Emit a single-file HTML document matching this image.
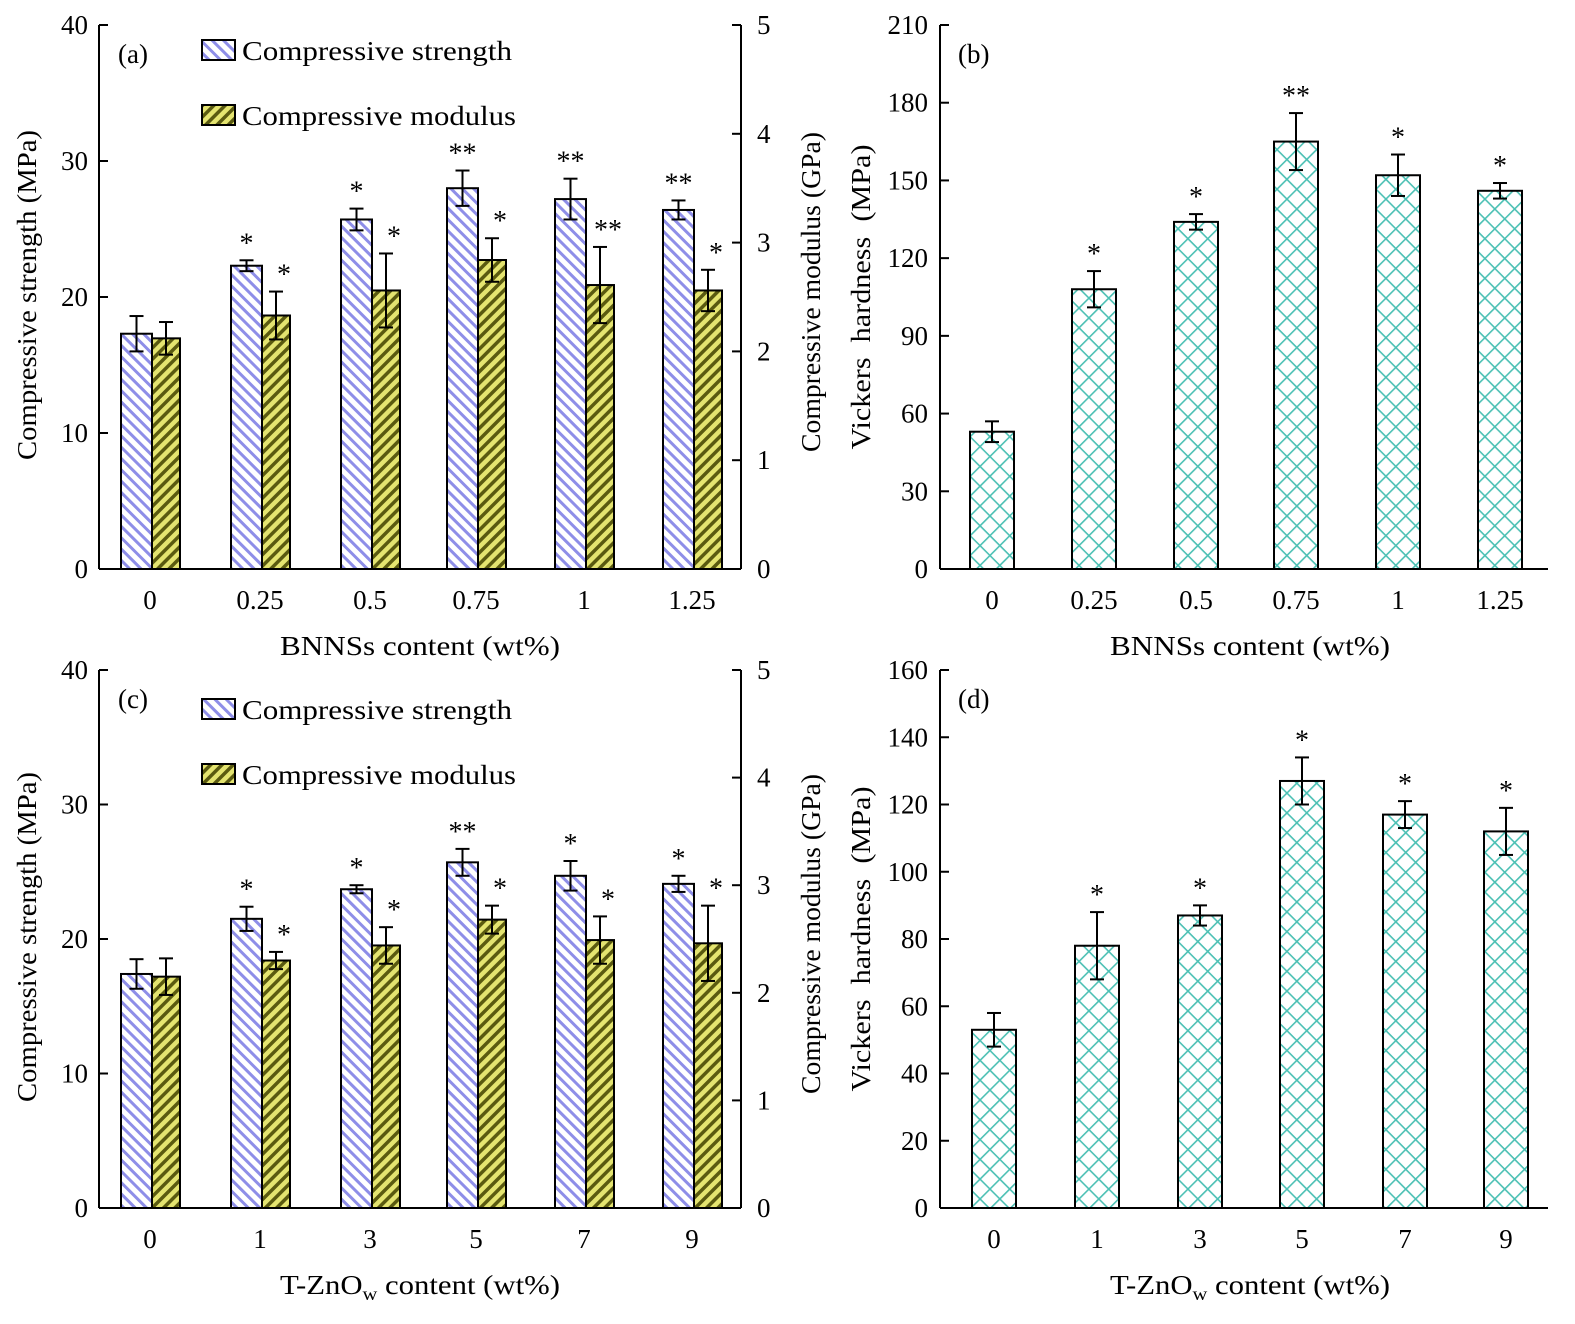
<!DOCTYPE html>
<html><head><meta charset="utf-8"><style>
html,body{margin:0;padding:0;background:#fff}
svg text{font-family:"Liberation Serif",serif;fill:#000}
</style></head><body>
<svg id="s" width="1575" height="1319" xmlns="http://www.w3.org/2000/svg">
<defs>
<pattern id="pb" width="8" height="8" patternUnits="userSpaceOnUse" patternTransform="rotate(-45)">
<rect width="8" height="8" fill="#fff"/><rect width="3" height="8" fill="#8e8ee8"/></pattern>
<pattern id="py" width="8" height="8" patternUnits="userSpaceOnUse" patternTransform="rotate(45)">
<rect width="8" height="8" fill="#e4e470"/><rect width="3.5" height="8" fill="#5a5a10"/></pattern>
<pattern id="px" width="14" height="14" patternUnits="userSpaceOnUse" patternTransform="rotate(45)">
<rect width="14" height="14" fill="#fff"/><rect width="1.6" height="14" fill="#4cc0b4"/><rect width="14" height="1.6" fill="#4cc0b4"/></pattern>
</defs>
<g id="g" stroke="#000" stroke-width="2" font-size="27"></g>
</svg>
<script>
const g=document.getElementById('g');let h='';
function L(x1,y1,x2,y2){h+=`<line x1="${x1}" y1="${y1}" x2="${x2}" y2="${y2}"/>`}
function T(x,y,t,a,extra){h+=`<text x="${x}" y="${y}" stroke="none" text-anchor="${a||'middle'}" ${extra||''}>${t}</text>`}
function bar(x,w,y0,yt,fill,err,stars,sx){
 h+=`<rect x="${x}" y="${yt}" width="${w}" height="${y0-yt}" fill="url(#${fill})"/>`;
 const c=x+w/2;L(c,yt-err,c,yt+err);L(c-7,yt-err,c+7,yt-err);L(c-7,yt+err,c+7,yt+err);
 if(stars)T(sx!==undefined?sx:c,yt-err-8,stars,'middle','font-size="28"');
}
const TL='lengthAdjust="spacingAndGlyphs"';
function dual(top,bot,xlab,cats,centers,str,mod,sS,sM,lab,legY){
 const sp=(bot-top)/40, spm=(bot-top)/5;
 L(99,top,99,bot);L(99,bot,741,bot);L(741,top,741,bot);
 for(let v=0;v<=40;v+=10){const y=bot-v*sp;L(99,y,108,y);T(88,y+9,v,'end');}
 for(let v=0;v<=5;v++){const y=bot-v*spm;L(732,y,741,y);T(757,y+9,v,'start');}
 cats.forEach((c,i)=>{const cx=centers[i];T(cx-2,bot+40,c);
  bar(cx-31,31,bot,bot-str[i][0]*sp,'pb',str[i][1]*sp,sS[i]);
  bar(cx,28,bot,bot-mod[i][0]*spm,'py',mod[i][1]*spm,sM[i],cx+22);});
 T(420,bot+86,xlab,'middle',`textLength="280" ${TL}`);
 T(0,0,'Compressive strength (MPa)','middle',`textLength="330" ${TL} transform="translate(36,${(top+bot)/2-2}) rotate(-90)"`);
 T(0,0,'Compressive modulus (GPa)','middle',`textLength="320" ${TL} transform="translate(820,${(top+bot)/2-5}) rotate(-90)"`);
 T(118,top+38,lab,'start');
 h+=`<rect x="202" y="${legY-11}" width="33" height="20" fill="url(#pb)"/>`;
 T(242,legY+9,'Compressive strength','start',`textLength="270" ${TL}`);
 h+=`<rect x="202" y="${legY+54}" width="33" height="20" fill="url(#py)"/>`;
 T(242,legY+74,'Compressive modulus','start',`textLength="274" ${TL}`);
}
function single(top,bot,max,step,xlab,cats,centers,vals,stars,lab){
 const sp=(bot-top)/max;
 L(940,top,940,bot);L(940,bot,1548,bot);
 for(let v=0;v<=max;v+=step){const y=bot-v*sp;L(940,y,949,y);T(928,y+9,v,'end');}
 cats.forEach((c,i)=>{const cx=centers[i];T(cx,bot+40,c);
  bar(cx-22,44,bot,bot-vals[i][0]*sp,'px',vals[i][1]*sp,stars[i]);});
 T(1250,bot+86,xlab,'middle',`textLength="280" ${TL}`);
 T(0,0,'Vickers&#160; hardness&#160; (MPa)','middle',`textLength="305" ${TL} transform="translate(870,${(top+bot)/2}) rotate(-90)"`);
 T(958,top+38,lab,'start');
}
const ZX='T-ZnO<tspan font-size="18" dy="6">w</tspan><tspan dy="-6"> content (wt%)</tspan>';
dual(25,569,'BNNSs content (wt%)',['0','0.25','0.5','0.75','1','1.25'],[152,262,372,478,586,694],
 [[17.3,1.3],[22.3,0.4],[25.7,0.8],[28,1.3],[27.2,1.5],[26.4,0.7]],
 [[2.12,0.15],[2.33,0.22],[2.56,0.34],[2.84,0.2],[2.61,0.35],[2.56,0.19]],
 ['','*','*','**','**','**'],['','*','*','*','**','*'],'(a)',51);
dual(670,1208,ZX,['0','1','3','5','7','9'],[152,262,372,478,586,694],
 [[17.4,1.1],[21.5,0.9],[23.7,0.3],[25.7,1],[24.7,1.1],[24.1,0.6]],
 [[2.15,0.17],[2.3,0.08],[2.44,0.17],[2.68,0.13],[2.49,0.22],[2.46,0.35]],
 ['','*','*','**','*','*'],['','*','*','*','*','*'],'(c)',710);
single(25,569,210,30,'BNNSs content (wt%)',['0','0.25','0.5','0.75','1','1.25'],[992,1094,1196,1296,1398,1500],
 [[53,4],[108,7],[134,3],[165,11],[152,8],[146,3]],['','*','*','**','*','*'],'(b)');
single(670,1208,160,20,ZX,['0','1','3','5','7','9'],[994,1097,1200,1302,1405,1506],
 [[53,5],[78,10],[87,3],[127,7],[117,4],[112,7]],['','*','*','*','*','*'],'(d)');
g.innerHTML=h;
</script>
</body></html>
